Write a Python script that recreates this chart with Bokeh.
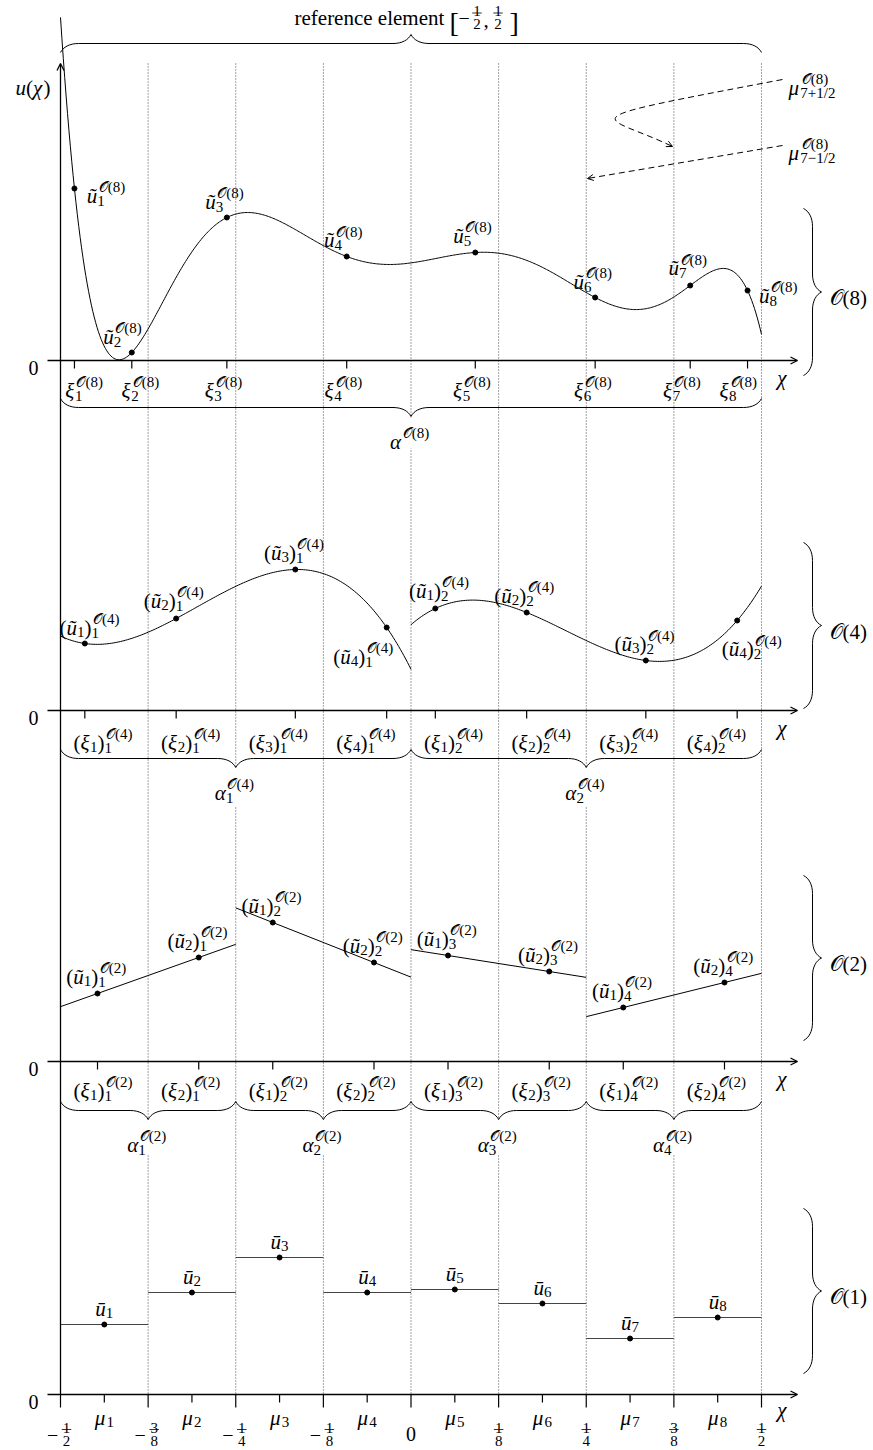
import numpy as np
from bokeh.plotting import figure
from bokeh.models import Range1d, Arrow, OpenHead, ColumnDataSource
from bokeh.core.properties import value
from bokeh.embed import file_html
from bokeh.resources import INLINE

# ---------------- data ----------------
# cell edges of the 8 finite-volume cells on the reference element
edges = [-0.5, -0.375, -0.25, -0.125, 0.0, 0.125, 0.25, 0.375, 0.5]
edge_sign = ["−", "−", "−", "−", "", "", "", "", ""]
edge_num = ["1", "3", "1", "1", "0", "1", "1", "3", "1"]
edge_den = ["2", "8", "4", "8", "", "8", "4", "8", "2"]

# O(1): cell centres and cell means
mu = [-0.4375, -0.3125, -0.1875, -0.0625, 0.0625, 0.1875, 0.3125, 0.4375]
ubar = [0.70, 1.02, 1.37, 1.02, 1.05, 0.91, 0.56, 0.77]

# O(8): one element, 8 nodes
xi8 = [-0.4801, -0.3983, -0.2627, -0.0917, 0.0917, 0.2627, 0.3983, 0.4801]
u8 = [1.72, 0.08, 1.43, 1.04, 1.08, 0.63, 0.75, 0.70]

# O(4): two elements, 4 nodes each
elem4 = [(-0.5, 0.0), (0.0, 0.5)]
xi4 = [[-0.4653, -0.3350, -0.1650, -0.0347], [0.0347, 0.1650, 0.3350, 0.4653]]
u4 = [[0.67, 0.92, 1.41, 0.83], [1.02, 0.98, 0.50, 0.90]]

# O(2): four elements, 2 nodes each
elem2 = [(-0.5, -0.25), (-0.25, 0.0), (0.0, 0.25), (0.25, 0.5)]
xi2 = [[-0.4472, -0.3028], [-0.1972, -0.0528], [0.0528, 0.1972], [0.3028, 0.4472]]
u2 = [[0.68, 1.04], [1.39, 0.99], [1.06, 0.90], [0.54, 0.79]]

# ---------------- layout ----------------
FONT = "Liberation Serif"
BS, SS = 21, 15
FR = 15
W_FIG, H_FIG = 873, 1450
M = 0
PX0, PXU = 410.5, 701.0
S = 100.0
Z = {"o8": 360, "o4": 710, "o2": 1061, "o1": 1394}


def X(px):
    return (px - PX0) / PXU


def PX(chi):
    return PX0 + chi * PXU


def PY(key, u):
    return Z[key] - u * S


p = figure(width=W_FIG, height=H_FIG,
           x_range=Range1d(X(M), X(M + W_FIG)),
           y_range=Range1d(M + H_FIG, M),
           x_axis_type=None, y_axis_type=None,
           output_backend="svg", toolbar_location=None, min_border=0)
p.outline_line_color = None
p.background_fill_color = "white"
p.extra_y_ranges = {k: Range1d((z - (M + H_FIG)) / S, (z - M) / S) for k, z in Z.items()}

# ---------- helpers ----------
runs = {}
bars = []
WID = {'(': .333, ')': .333, '[': .333, ']': .333, '+': .564, '−': .564, '/': .278,
       ',': .25, 'O': .722, '𝒪': .78, ' ': .25, 'ξ': .46, 'α': .53, 'μ': .56, 'χ': .5,
       'u': .5, 'ũ': .5, 'ū': .5}


def tw(s, size):
    return sum(WID.get(c, 0.5) for c in s) * size


def add_run(t, px, by, size, style="normal"):
    d = runs.setdefault((size, style), {"x": [], "y": [], "text": []})
    d["x"].append(X(px))
    d["y"].append(by)
    d["text"].append(t)


def math(pieces, by, cx=None, lx=None, bs=BS, ss=SS):
    items = []
    x = 0.0
    for pc in pieces:
        k = pc[0]
        if k in ('i', 'n'):
            st = 'italic' if k == 'i' else 'normal'
            items.append((pc[1], x, 0, bs, st))
            x += tw(pc[1], bs)
        elif k == 'sub':
            items.append((pc[1], x, 4, ss, 'normal'))
            x += tw(pc[1], ss)
        elif k == 'sup':
            items.append((pc[1], x + 1.5, -8.5, ss, 'normal'))
            x += tw(pc[1], ss) + 1.5
        elif k == 'ss':
            items.append((pc[1], x, 5, ss, 'normal'))
            items.append((pc[2], x + 1.5, -8.5, ss, 'normal'))
            x += max(tw(pc[1], ss), tw(pc[2], ss) + 1.5)
    x0 = (cx - x / 2) if cx is not None else lx
    for t, dx, dy, s, st in items:
        add_run(t, x0 + dx, by + dy, s, st)


def frac(cx, bar_y, num, den, size=FR):
    w = max(tw(num, size), tw(den, size))
    add_run(num, cx - tw(num, size) / 2, bar_y - 2, size)
    add_run(den, cx - tw(den, size) / 2, bar_y + 11, size)
    bars.append((cx - w / 2 - 1, cx + w / 2 + 1, bar_y))


bz = {k: [] for k in ("x0", "y0", "x1", "y1", "cx0", "cy0", "cx1", "cy1")}
sg = {k: [] for k in ("x0", "y0", "x1", "y1")}


def brace(p0, p1, nrm, A=18):
    (ax, ay), (bx, by) = p0, p1
    L = float(np.hypot(bx - ax, by - ay))
    tx, ty = (bx - ax) / L, (by - ay) / L
    nx, ny = nrm
    m = L / 2

    def P(s, h):
        return (ax + s * tx + h * nx, ay + s * ty + h * ny)

    def bez(a, c0, c1, b):
        a, c0, c1, b = P(*a), P(*c0), P(*c1), P(*b)
        bz["x0"].append(X(a[0])); bz["y0"].append(a[1])
        bz["x1"].append(X(b[0])); bz["y1"].append(b[1])
        bz["cx0"].append(X(c0[0])); bz["cy0"].append(c0[1])
        bz["cx1"].append(X(c1[0])); bz["cy1"].append(c1[1])

    def seg(a, b):
        a, b = P(*a), P(*b)
        sg["x0"].append(X(a[0])); sg["y0"].append(a[1])
        sg["x1"].append(X(b[0])); sg["y1"].append(b[1])

    h = .5 * A
    bez((0, 0), (.15 * A, .3 * A), (.5 * A, h), (A, h))
    seg((A, h), (m - A, h))
    bez((m - A, h), (m - .5 * A, h), (m - .15 * A, .7 * A), (m, A))
    bez((m, A), (m + .15 * A, .7 * A), (m + .5 * A, h), (m + A, h))
    seg((m + A, h), (L - A, h))
    bez((L - A, h), (L - .5 * A, h), (L - .15 * A, .3 * A), (L, 0))


def poly_curve(nodes, vals, a, b, n=300):
    xs = np.linspace(a, b, n)
    ys = np.zeros(n)
    for j, (xj, vj) in enumerate(zip(nodes, vals)):
        lj = np.ones(n)
        for mm, xm in enumerate(nodes):
            if mm != j:
                lj *= (xs - xm) / (xj - xm)
        ys += vj * lj
    return xs, ys


def arrow_head(tip_px, dir_px, size=6):
    dx, dy = dir_px
    L = np.hypot(dx, dy)
    dx, dy = dx / L, dy / L
    p.add_layout(Arrow(end=OpenHead(size=size, line_width=1, line_color="black"),
                       x_start=X(tip_px[0] - 3 * dx), y_start=tip_px[1] - 3 * dy,
                       x_end=X(tip_px[0]), y_end=tip_px[1],
                       line_color="black", line_width=1))


# ---------- dotted cell boundaries ----------
p.segment(x0=edges[1:], y0=[63] * 8, x1=edges[1:], y1=[Z["o1"]] * 8,
          line_color="#444444", line_width=1, line_dash="1 2")

# white boxes behind alpha labels
alpha_boxes = [(0.0, 417, 448)] + [((a + b) / 2, 767, 806) for a, b in elem4] + \
              [((a + b) / 2, 1119, 1154) for a, b in elem2]
p.quad(left=[c - 22 / PXU for c, _, _ in alpha_boxes], right=[c + 22 / PXU for c, _, _ in alpha_boxes],
       top=[t for _, t, _ in alpha_boxes], bottom=[b for _, _, b in alpha_boxes],
       fill_color="white", line_color=None)

# ---------- curves ----------
xs, ys = poly_curve(xi8, u8, -0.5, 0.5, 500)
p.line(xs, ys, y_range_name="o8", line_color="black", line_width=1)
for (a, b), xn, un in zip(elem4, xi4, u4):
    xs, ys = poly_curve(xn, un, a, b, 200)
    p.line(xs, ys, y_range_name="o4", line_color="black", line_width=1)
for (a, b), xn, un in zip(elem2, xi2, u2):
    xs, ys = poly_curve(xn, un, a, b, 2)
    p.line(xs, ys, y_range_name="o2", line_color="black", line_width=1)
p.segment(x0=edges[:-1], x1=edges[1:], y0=ubar, y1=ubar, y_range_name="o1",
          line_color="#444444", line_width=1.2)

# ---------- points ----------
p.scatter(xi8, u8, y_range_name="o8", size=5, color="black")
p.scatter(sum(xi4, []), sum(u4, []), y_range_name="o4", size=5, color="black")
p.scatter(sum(xi2, []), sum(u2, []), y_range_name="o2", size=5, color="black")
p.scatter(mu, ubar, y_range_name="o1", size=5, color="black")

# ---------- ticks ----------
def ticks(xv, z, L):
    p.segment(x0=xv, y0=[z] * len(xv), x1=xv, y1=[z + L] * len(xv),
              line_color="black", line_width=1.2)


ticks(xi8, Z["o8"], 8)
ticks(sum(xi4, []), Z["o4"], 8)
ticks(sum(xi2, []), Z["o2"], 8)
ticks(mu, Z["o1"], 8)
ticks(edges, Z["o1"], 13)

# ---------- axes ----------
for z in Z.values():
    p.add_layout(Arrow(end=OpenHead(size=7, line_width=1.3, line_color="black"),
                       x_start=X(47), y_start=z, x_end=X(797), y_end=z,
                       line_color="black", line_width=1.3))
p.add_layout(Arrow(end=OpenHead(size=7, line_width=1.3, line_color="black"),
                   x_start=edges[0], y_start=Z["o1"], x_end=edges[0], y_end=63,
                   line_color="black", line_width=1.3))
for z in Z.values():
    add_run("0", 33 - 5, z + 7, 20)
for k, z in Z.items():
    math([('i', 'χ')], z + (15 if k == "o1" else 17), cx=782)
math([('i', 'u'), ('n', '('), ('i', 'χ'), ('n', ')')], 87, cx=32.5)

# ---------- title brace ----------
brace((PX(-0.5), 52), (PX(0.5), 52), (0, -1))
add_run("reference element", 294, 17, 21)
add_run("[", 449, 22, 28)
add_run("−", 458, 17.5, 20)
frac(476.5, 12.5, "1", "2")
add_run(",", 483, 19, 21)
frac(497.5, 12.5, "1", "2")
add_run("]", 509, 22, 28)

# ---------- panel O(8) ----------
off8 = [(33, 1), (-8, -22), (-1, -22), (-2, -22.5), (-1.5, -23), (-1, -22), (-1, -23.5), (32, -1)]
lab8_dx = [11, 10, -2, -2, -2, -1, -7, -8]
for i, (x, u) in enumerate(zip(xi8, u8)):
    dx, dy = off8[i]
    math([('i', 'ũ'), ('ss', str(i + 1), '𝒪(8)')], PY("o8", u) + dy + 6, cx=PX(x) + dx)
    math([('i', 'ξ'), ('ss', str(i + 1), '𝒪(8)')], Z["o8"] + 30, cx=PX(x) + lab8_dx[i])
brace((PX(-0.5), 398), (PX(0.5), 398), (0, 1))
math([('i', 'α'), ('sup', '𝒪(8)')], 441, cx=PX(0.0))

# dashed arrows to mu_{7 +- 1/2}
p.bezier(x0=[X(782)], y0=[79], x1=[X(672)], y1=[146], cx0=[X(556)], cy0=[122],
         cx1=[X(602)], cy1=[112.3], line_color="black", line_width=1, line_dash="6 4")
arrow_head((672, 146), (70, 33.7))
p.line([X(782), X(587)], [145, 178], line_color="black", line_width=1, line_dash="6 4")
arrow_head((587, 178), (-195, 33))
math([('i', 'μ'), ('ss', '7+1/2', '𝒪(8)')], 87, lx=788)
math([('i', 'μ'), ('ss', '7−1/2', '𝒪(8)')], 152, lx=788)

# ---------- panel O(4) ----------
off4 = [(6, -22), (-1, -24), (0, -23), (-22, 23), (5, -24), (-1, -23), (0, -22.5), (16, 22.5)]
k = 0
for e in range(2):
    for i in range(4):
        x, u = xi4[e][i], u4[e][i]
        dx, dy = off4[k]
        math([('n', '('), ('i', 'ũ'), ('sub', str(i + 1)), ('n', ')'), ('ss', str(e + 1), '𝒪(4)')],
             PY("o4", u) + dy + 6, cx=PX(x) + dx)
        math([('n', '('), ('i', 'ξ'), ('sub', str(i + 1)), ('n', ')'), ('ss', str(e + 1), '𝒪(4)')],
             Z["o4"] + 32, cx=PX(mu[k]))
        k += 1
for e, (a, b) in enumerate(elem4):
    brace((PX(a), 749), (PX(b), 749), (0, 1))
    math([('i', 'α'), ('ss', str(e + 1), '𝒪(4)')], 792, cx=PX((a + b) / 2))

# ---------- panel O(2) ----------
k = 0
for e in range(4):
    for i in range(2):
        x, u = xi2[e][i], u2[e][i]
        math([('n', '('), ('i', 'ũ'), ('sub', str(i + 1)), ('n', ')'), ('ss', str(e + 1), '𝒪(2)')],
             PY("o2", u) - 23 + 6, cx=PX(x))
        math([('n', '('), ('i', 'ξ'), ('sub', str(i + 1)), ('n', ')'), ('ss', str(e + 1), '𝒪(2)')],
             Z["o2"] + 29, cx=PX(mu[k]))
        k += 1
for e, (a, b) in enumerate(elem2):
    brace((PX(a), 1101), (PX(b), 1101), (0, 1))
    math([('i', 'α'), ('ss', str(e + 1), '𝒪(2)')], 1144, cx=PX((a + b) / 2))

# ---------- panel O(1) ----------
for i, (x, u) in enumerate(zip(mu, ubar)):
    math([('i', 'ū'), ('sub', str(i + 1))], PY("o1", u) - 16, cx=PX(x))
    math([('i', 'μ'), ('sub', str(i + 1))], Z["o1"] + 23, cx=PX(x))
for x, sgn, nm, dn in zip(edges, edge_sign, edge_num, edge_den):
    bar_y = Z["o1"] + 35
    if dn == "":
        add_run(nm, PX(x) - 5, Z["o1"] + 39, 20)
    elif sgn:
        add_run(sgn, PX(x) - 8 - 5.6, bar_y + 5, 20)
        frac(PX(x) + 6, bar_y, nm, dn)
    else:
        frac(PX(x), bar_y, nm, dn)

# ---------- order braces on the right ----------
for lab, (t, b) in zip(["8", "4", "2", "1"], [(208, 375), (542, 708), (875, 1040), (1208, 1373)]):
    brace((803, t), (803, b), (1, 0))
    math([('n', '𝒪(' + lab + ')')], (t + b) / 2 + 6, lx=829)

# ---------- draw brace paths, fraction bars, texts ----------
p.bezier(source=ColumnDataSource(bz), x0="x0", y0="y0", x1="x1", y1="y1",
         cx0="cx0", cy0="cy0", cx1="cx1", cy1="cy1", line_color="black", line_width=1)
p.segment(source=ColumnDataSource(sg), x0="x0", y0="y0", x1="x1", y1="y1",
          line_color="black", line_width=1)
p.segment(x0=[X(a) for a, _, _ in bars], x1=[X(b) for _, b, _ in bars],
          y0=[y for _, _, y in bars], y1=[y for _, _, y in bars],
          line_color="black", line_width=0.8)

for (size, style), d in runs.items():
    p.text(x="x", y="y", text="text", source=ColumnDataSource(d),
           text_font=value(FONT), text_font_size=value(f"{size}px"),
           text_font_style=style, text_color="black",
           text_align="left", text_baseline="alphabetic")

open("out.html", "w").write(file_html(p, INLINE))
